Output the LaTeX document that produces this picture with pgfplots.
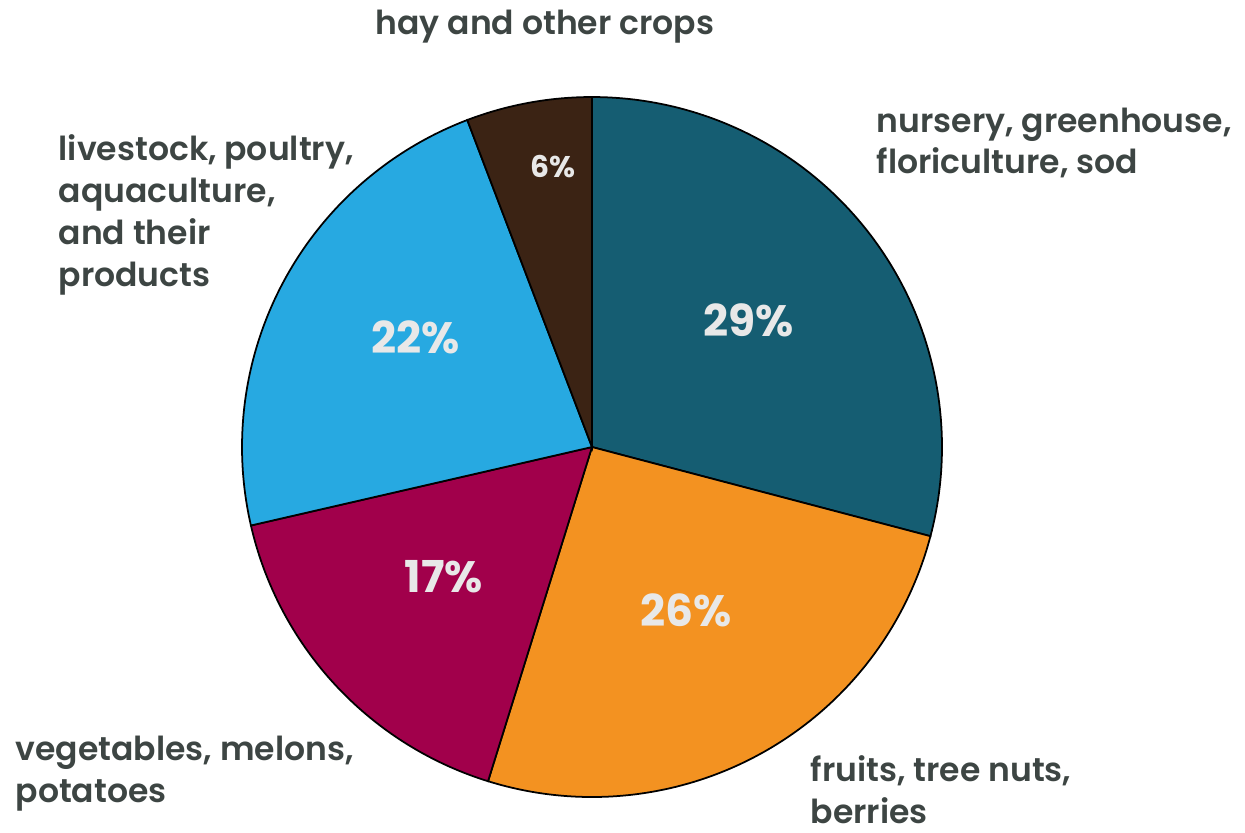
\documentclass[border=0pt]{standalone}
\usepackage{pgfplots}
\usepackage{pgfplotstable}
\pgfplotsset{compat=1.18}
\usepackage{fontspec}
\setmainfont{Poppins}[BoldFont={Poppins SemiBold}]
\newfontfamily\pctfont{Poppins Bold}
\definecolor{cnurs}{HTML}{155D72}
\definecolor{cfruit}{HTML}{F39221}
\definecolor{cveg}{HTML}{A1004B}
\definecolor{clive}{HTML}{27A9E1}
\definecolor{chay}{HTML}{3B2314}
\definecolor{ctext}{HTML}{3D4543}
\definecolor{cpct}{HTML}{E8E8E8}
\pgfplotstableread{
slice value
nursery 29.1
fruits 25.7
vegetables 16.6
livestock 22.8
hay 5.8
}\piedata
\begin{document}
\begin{tikzpicture}
\pgfplotstablegetelem{0}{value}\of\piedata \let\vA\pgfplotsretval
\pgfplotstablegetelem{1}{value}\of\piedata \let\vB\pgfplotsretval
\pgfplotstablegetelem{2}{value}\of\piedata \let\vC\pgfplotsretval
\pgfplotstablegetelem{3}{value}\of\piedata \let\vD\pgfplotsretval
\pgfplotstablegetelem{4}{value}\of\piedata \let\vE\pgfplotsretval
\pgfmathsetmacro\aO{90}
\pgfmathsetmacro\aA{\aO-3.6*\vA}
\pgfmathsetmacro\aB{\aA-3.6*\vB}
\pgfmathsetmacro\aC{\aB-3.6*\vC}
\pgfmathsetmacro\aD{\aC-3.6*\vD}
\pgfmathsetmacro\aE{\aD-3.6*\vE}
\begin{axis}[
  scale only axis, width=12.45cm, height=8.32cm,
  xmin=0, xmax=1245, ymin=0, ymax=832,
  hide axis, clip=false,
]
\coordinate (ll) at (rel axis cs:0,0);
\coordinate (ur) at (rel axis cs:1,1);
\addplot[fill=cnurs, draw=black, line width=0.5pt, domain=\aA:\aO, samples=120, variable=\t]
  ({592+350*cos(\t)},{385+350*sin(\t)}) -- (592,385) -- cycle;
\addplot[fill=cfruit, draw=black, line width=0.5pt, domain=\aB:\aA, samples=120, variable=\t]
  ({592+350*cos(\t)},{385+350*sin(\t)}) -- (592,385) -- cycle;
\addplot[fill=cveg, draw=black, line width=0.5pt, domain=\aC:\aB, samples=120, variable=\t]
  ({592+350*cos(\t)},{385+350*sin(\t)}) -- (592,385) -- cycle;
\addplot[fill=clive, draw=black, line width=0.5pt, domain=\aD:\aC, samples=120, variable=\t]
  ({592+350*cos(\t)},{385+350*sin(\t)}) -- (592,385) -- cycle;
\addplot[fill=chay, draw=black, line width=0.5pt, domain=\aE:\aD, samples=60, variable=\t]
  ({592+350*cos(\t)},{385+350*sin(\t)}) -- (592,385) -- cycle;
% percentage labels
\begin{scope}[every node/.style={text=cpct, font=\fontsize{12.5}{14}\selectfont\pctfont}]
\node at (749,512) {29\%};
\node at (686,222) {26\%};
\node at (444,255) {17\%};
\node at (416,495) {22\%};
\node[font=\fontsize{8.5}{10}\selectfont\pctfont] at (553,665) {6\%};
\end{scope}
% category labels
\begin{scope}[every node/.style={text=ctext, font=\fontsize{9.4}{11.9}\selectfont\bfseries, align=left, inner sep=0pt}]
\node[anchor=center] at (545,805) {hay and other crops};
\node[anchor=west] at (876,689) {nursery, greenhouse,\\floriculture, sod};
\node[anchor=west] at (58,617) {livestock, poultry,\\aquaculture,\\and their\\products};
\node[anchor=west] at (15,58) {vegetables, melons,\\potatoes};
\node[anchor=west] at (810,42) {fruits, tree nuts,\\berries};
\end{scope}
\end{axis}
\pgfresetboundingbox
\useasboundingbox (ll) rectangle (ur);
\end{tikzpicture}
\end{document}
